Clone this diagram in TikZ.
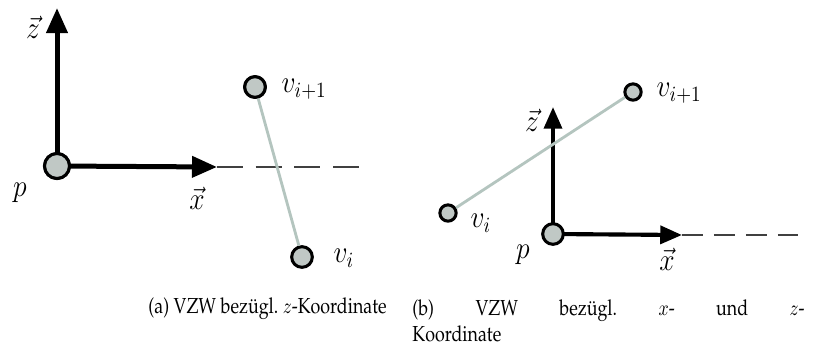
\documentclass[tikz,border=0pt]{standalone}
\usepackage{amsmath}
\usepackage{graphicx}
\usepackage{xcolor}
\usepackage[T1,TU]{fontenc}
\usetikzlibrary{arrows.meta, positioning, calc}
\definecolor{vtxfill}{RGB}{192,200,197}
\definecolor{edgegray}{RGB}{180,197,191}
\newcommand{\capfont}{\fontencoding{T1}\fontfamily{ppl}\selectfont\frenchspacing}
\newcommand{\narrow}[2][0.88]{\scalebox{#1}[1]{#2}}

\begin{document}
\begin{tikzpicture}[x=0.46pt, y=-0.46pt,
  axis/.style={line width=2.3pt, -{Triangle[length=11.5pt, width=9.5pt]}},
  axisb/.style={line width=1.9pt, -{Triangle[length=10pt, width=8.2pt]}},
  ext/.style={line width=0.8pt, black!75, dash pattern=on 12pt off 5.8pt},
  extb/.style={line width=0.8pt, black!75, dash pattern=on 9.5pt off 5.2pt},
  edge/.style={line width=1.3pt, edgegray},
  vtx/.style={circle, draw, line width=1.4pt, fill=vtxfill, inner sep=0pt, minimum size=#1},
  lbl/.style={font=\Large}]
\useasboundingbox (0,0) rectangle (813,345);
% (a)
\node[vtx=11.5pt] (pa) at (57,166) {};
\coordinate (za) at (57,8);
\coordinate (xa) at (217,167);
\coordinate (ea) at (359,167);
\draw[axis] (pa.center) -- (za);
\draw[axis] (pa.center) -- (xa);
\draw[ext] (xa) -- (ea);
\node[vtx=9.5pt] (v1a) at (255,87) {};
\node[vtx=9.5pt] (v0a) at (302,257) {};
\draw[edge] (v1a) -- (v0a);
\node[vtx=9.5pt] at (v1a) {};
\node[vtx=11.5pt] at (pa) {};
\node[lbl] (lza) at (33,27) {\narrow{$\vec{z}$}};
\node[lbl] (lpa) at (20,193) {\narrow{$p$}};
\node[lbl] (lxa) at (197,198) {\narrow{$\vec{x}$}};
\node[lbl, anchor=west] (lv1a) at (274,89) {\narrow{$v_{i+1}$}};
\node[lbl, anchor=west] (lv0a) at (326,258) {\narrow{$v_i$}};
% (b)
\coordinate (pb) at (553,234);
\coordinate (zb) at (553,107);
\coordinate (xb) at (682,235);
\coordinate (eb) at (798,235);
\draw[axisb] (pb) -- (zb);
\draw[axisb] (pb) -- (xb);
\draw[extb] (xb) -- (eb);
\node[vtx=7.5pt] (v0b) at (448,213) {};
\node[vtx=7.5pt] (v1b) at (633,92) {};
\draw[edge] (v0b) -- (v1b);
\node[vtx=9.5pt] (pbn) at (pb) {};
\node[lbl] (lzb) at (532,120) {\narrow{$\vec{z}$}};
\node[lbl] (lpb) at (523,255) {\narrow{$p$}};
\node[lbl] (lxb) at (667,259) {\narrow{$\vec{x}$}};
\node[lbl, anchor=west] (lv1b) at (649,93) {\narrow{$v_{i+1}$}};
\node[lbl, anchor=west] (lv0b) at (463,223) {\narrow{$v_i$}};
% captions
\node[anchor=west, inner sep=0pt, font=\capfont] (capa) at (148,309)
  {\narrow[0.82]{\capfont(a) VZW bez\"ugl. $z$-Koordinate}};
\node[anchor=north west, inner sep=0pt, font=\capfont] (capb) at (412,299)
  {\narrow[0.82]{\parbox{220pt}{\capfont(b) VZW bez\"ugl. $x$- und $z$-\linebreak Koordinate}}};
\end{tikzpicture}
\end{document}
